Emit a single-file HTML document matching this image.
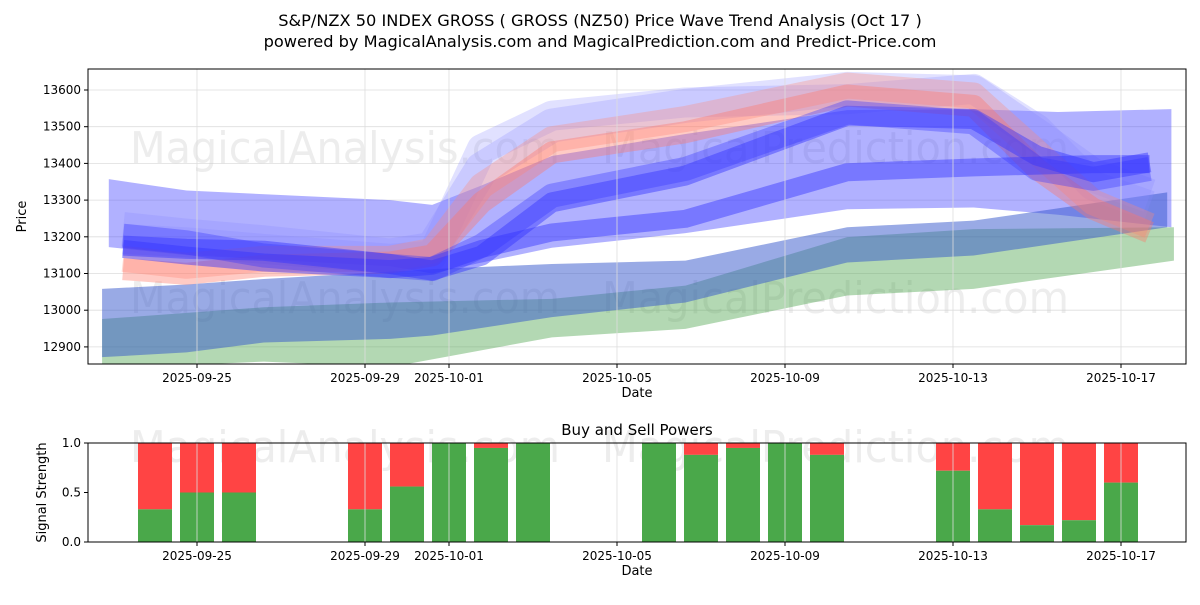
<!DOCTYPE html>
<html><head><meta charset="utf-8"><style>
body{margin:0;background:#fff;font-family:"Liberation Sans","DejaVu Sans",sans-serif}
svg text{font-family:"DejaVu Sans","Liberation Sans",sans-serif}
</style></head><body>
<svg id="c" width="1200" height="600" xmlns="http://www.w3.org/2000/svg">
<text x="600" y="26" text-anchor="middle" font-size="16.2">S&amp;P/NZX 50 INDEX GROSS ( GROSS  (NZ50) Price Wave Trend Analysis (Oct 17 )</text>
<text x="600" y="47" text-anchor="middle" font-size="16.2">powered by MagicalAnalysis.com and MagicalPrediction.com and Predict-Price.com</text>
<g id="topPanel"></g>
<g id="botPanel"></g>
</svg>
<script>
const tickDays=[0,4,6,10,14,18,22];
const tickLabels=["2025-09-25","2025-09-29","2025-10-01","2025-10-05","2025-10-09","2025-10-13","2025-10-17"];
const yTicks=[12900,13000,13100,13200,13300,13400,13500,13600];
const greenDays=[-2.26,1.59,4.6,8.45,11.63,15.48,18.49,23.26];
const greenUpper=[12976,13008,13021,13031,13067,13199,13221,13226];
const greenLower=[12840,12860,12845,12926,12949,13040,13058,13135];
const steelDays=[-2.26,-0.25,1.59,4.6,5.6,8.45,11.63,15.48,18.49,23.1];
const steelUpper=[13058,13070,13085,13105,13112,13126,13135,13226,13244,13321];
const steelLower=[12872,12885,12912,12922,12931,12981,13021,13130,13149,13226];
const wideDays=[-2.1,-0.25,4.6,5.6,6.78,8.45,11.63,14,15.48,18.49,20.5,23.2];
const wideUpper=[13357,13326,13300,13287,13340,13420,13480,13520,13545,13548,13540,13548];
const wideLower=[13172,13150,13120,13100,13130,13170,13210,13250,13275,13280,13260,13226];
const lineDays=[-1.76,-0.25,1.59,4.6,5.6,6.78,8.45,11.63,15.48,18.49,20.0,21.34,22.68];
const blue1=[13176,13167,13162,13126,13108,13149,13294,13367,13530,13521,13421,13376,13403];
const blue2=[13203,13185,13149,13121,13112,13176,13312,13385,13539,13512,13385,13358,13385];
const blue3=[13167,13149,13130,13112,13121,13167,13212,13249,13376,13389,13394,13398,13398];
const red1=[13112,13099,13121,13130,13149,13294,13430,13485,13585,13557,13385,13276,13212];
const red2=[13140,13121,13140,13140,13162,13339,13466,13521,13612,13585,13430,13294,13230];
const lav1=[13221,13203,13185,13149,13167,13385,13503,13557,13603,13594,13476,13367,13312];
const lav2=[13194,13185,13167,13140,13149,13439,13530,13566,13575,13603,13494,13339,13285];
const barDays=[-1,0,1,4,5,6,7,8,11,12,13,14,15,18,19,20,21,22];
const buyVals=[0.33,0.5,0.5,0.33,0.56,1,0.95,1,1,0.88,0.95,1,0.88,0.72,0.33,0.17,0.22,0.6];

const NS="http://www.w3.org/2000/svg";
const L=88,R=1186,T=69,B=364,BT=443,BB=542;
const X=d=>197+d*42;
const Y=v=>90+(13600-v)*0.367;
const YB=s=>BB-s*(BB-BT);
function mk(tag,attrs,parent){const e=document.createElementNS(NS,tag);for(const k in attrs)e.setAttribute(k,attrs[k]);parent.appendChild(e);return e;}
const topG=document.getElementById('topPanel'),botG=document.getElementById('botPanel');
function frame(g,yb,yt,lab){
  tickDays.forEach((d,i)=>{
    const x=X(d);
    const gl=mk('line',{x1:x,x2:x,y1:yt,y2:yb,stroke:'#ddd','stroke-width':0.8},g);
    
    
    mk('line',{x1:x,x2:x,y1:yb,y2:yb+4,stroke:'#000'},g);
    const t=mk('text',{x:x,y:yb+18,'text-anchor':'middle','font-size':12},g);
    t.textContent=tickLabels[i];
    
    
  });
  const r=mk('rect',{x:L,y:yt,width:R-L,height:yb-yt,fill:'none',stroke:'#000','stroke-width':1},g);
  
  
  const xt=mk('text',{x:(L+R)/2,y:yb+33,'text-anchor':'middle','font-size':13},g);
  xt.textContent='Date';
  
  
}
function wm(g,x,y,txt,len){const t=mk('text',{x:x,y:y,'font-size':44,fill:'#ccc','fill-opacity':0.35,textLength:len,lengthAdjust:'spacingAndGlyphs'},g);t.textContent=txt;

}
yTicks.forEach(v=>{
  const y=Y(v);
  const gl=mk('line',{x1:L,x2:R,y1:y,y2:y,stroke:'#ddd','stroke-width':0.8},topG);
  
  
  mk('line',{x1:L-4,x2:L,y1:y,y2:y,stroke:'#000'},topG);
  const t=mk('text',{x:L-7,y:y+4,'text-anchor':'end','font-size':12},topG);
  t.textContent=v;
  
  
});
wm(topG,130,163,'MagicalAnalysis.com',430);wm(topG,602,163,'MagicalPrediction.com',467);
wm(topG,130,313,'MagicalAnalysis.com',430);wm(topG,602,313,'MagicalPrediction.com',467);
const clip=mk('clipPath',{id:'cp'},topG);mk('rect',{x:L,y:T,width:R-L,height:B-T},clip);
const plot=mk('g',{'clip-path':'url(#cp)'},topG);
function band(days,up,lo,fill,op,name){
  let p=days.map((d,i)=>X(d)+','+Y(up[i]));
  p=p.concat(days.map((d,i)=>X(d)+','+Y(lo[i])).reverse());
  const e=mk('polygon',{points:p.join(' '),fill:fill,'fill-opacity':op},plot);
  
  
}
band(greenDays,greenUpper,greenLower,'#4aa34a',0.42,'green-band');
band(wideDays,wideUpper,wideLower,'#4444ff',0.42,'wide-blue-band');
band(steelDays,steelUpper,steelLower,'#3355cc',0.5,'steel-band');
function lineBand(vals,col,op,w,name){
  const e=mk('polyline',{points:lineDays.map((d,i)=>X(d)+','+Y(vals[i])).join(' '),fill:'none',stroke:col,'stroke-opacity':op,'stroke-width':w,'stroke-linejoin':'round'},plot);
  
  
}
lineBand(lav1,'#8888ff',0.25,34,'light-blue-wave-1');
lineBand(lav2,'#8888ff',0.25,30,'light-blue-wave-2');
lineBand(red2,'#ff8877',0.32,26,'red-wave-2');
lineBand(red1,'#ff7766',0.38,22,'red-wave-1');
lineBand(blue3,'#3333ff',0.45,18,'blue-wave-3');
lineBand(blue2,'#3333ff',0.35,24,'blue-wave-2');
lineBand(blue1,'#3333ff',0.45,20,'blue-wave-1');
frame(topG,B,T,'price');
const yl=mk('text',{x:26,y:(T+B)/2,'text-anchor':'middle','font-size':13,transform:'rotate(-90 26 '+(T+B)/2+')'},topG);
yl.textContent='Price';


wm(botG,130,462,'MagicalAnalysis.com',430);wm(botG,602,462,'MagicalPrediction.com',467);
barDays.forEach((d,i)=>{
  const x=X(d)-17;
  const r=mk('rect',{x:x,y:YB(1),width:34,height:YB(buyVals[i])-YB(1),fill:'#ff4444'},botG);
  
  
  const g=mk('rect',{x:x,y:YB(buyVals[i]),width:34,height:BB-YB(buyVals[i]),fill:'#4aa84a'},botG);
  
  
});
[0,0.5,1].forEach(s=>{
  const y=YB(s);
  mk('line',{x1:L-4,x2:L,y1:y,y2:y,stroke:'#000'},botG);
  const t=mk('text',{x:L-7,y:y+4,'text-anchor':'end','font-size':12},botG);
  t.textContent=s.toFixed(1);
  
  
});
frame(botG,BB,BT,'signal');
const bt=mk('text',{x:(L+R)/2,y:435,'text-anchor':'middle','font-size':15},botG);
bt.textContent='Buy and Sell Powers';


const sl=mk('text',{x:46,y:(BT+BB)/2,'text-anchor':'middle','font-size':13,transform:'rotate(-90 46 '+(BT+BB)/2+')'},botG);
sl.textContent='Signal Strength';


</script>
</body></html>
